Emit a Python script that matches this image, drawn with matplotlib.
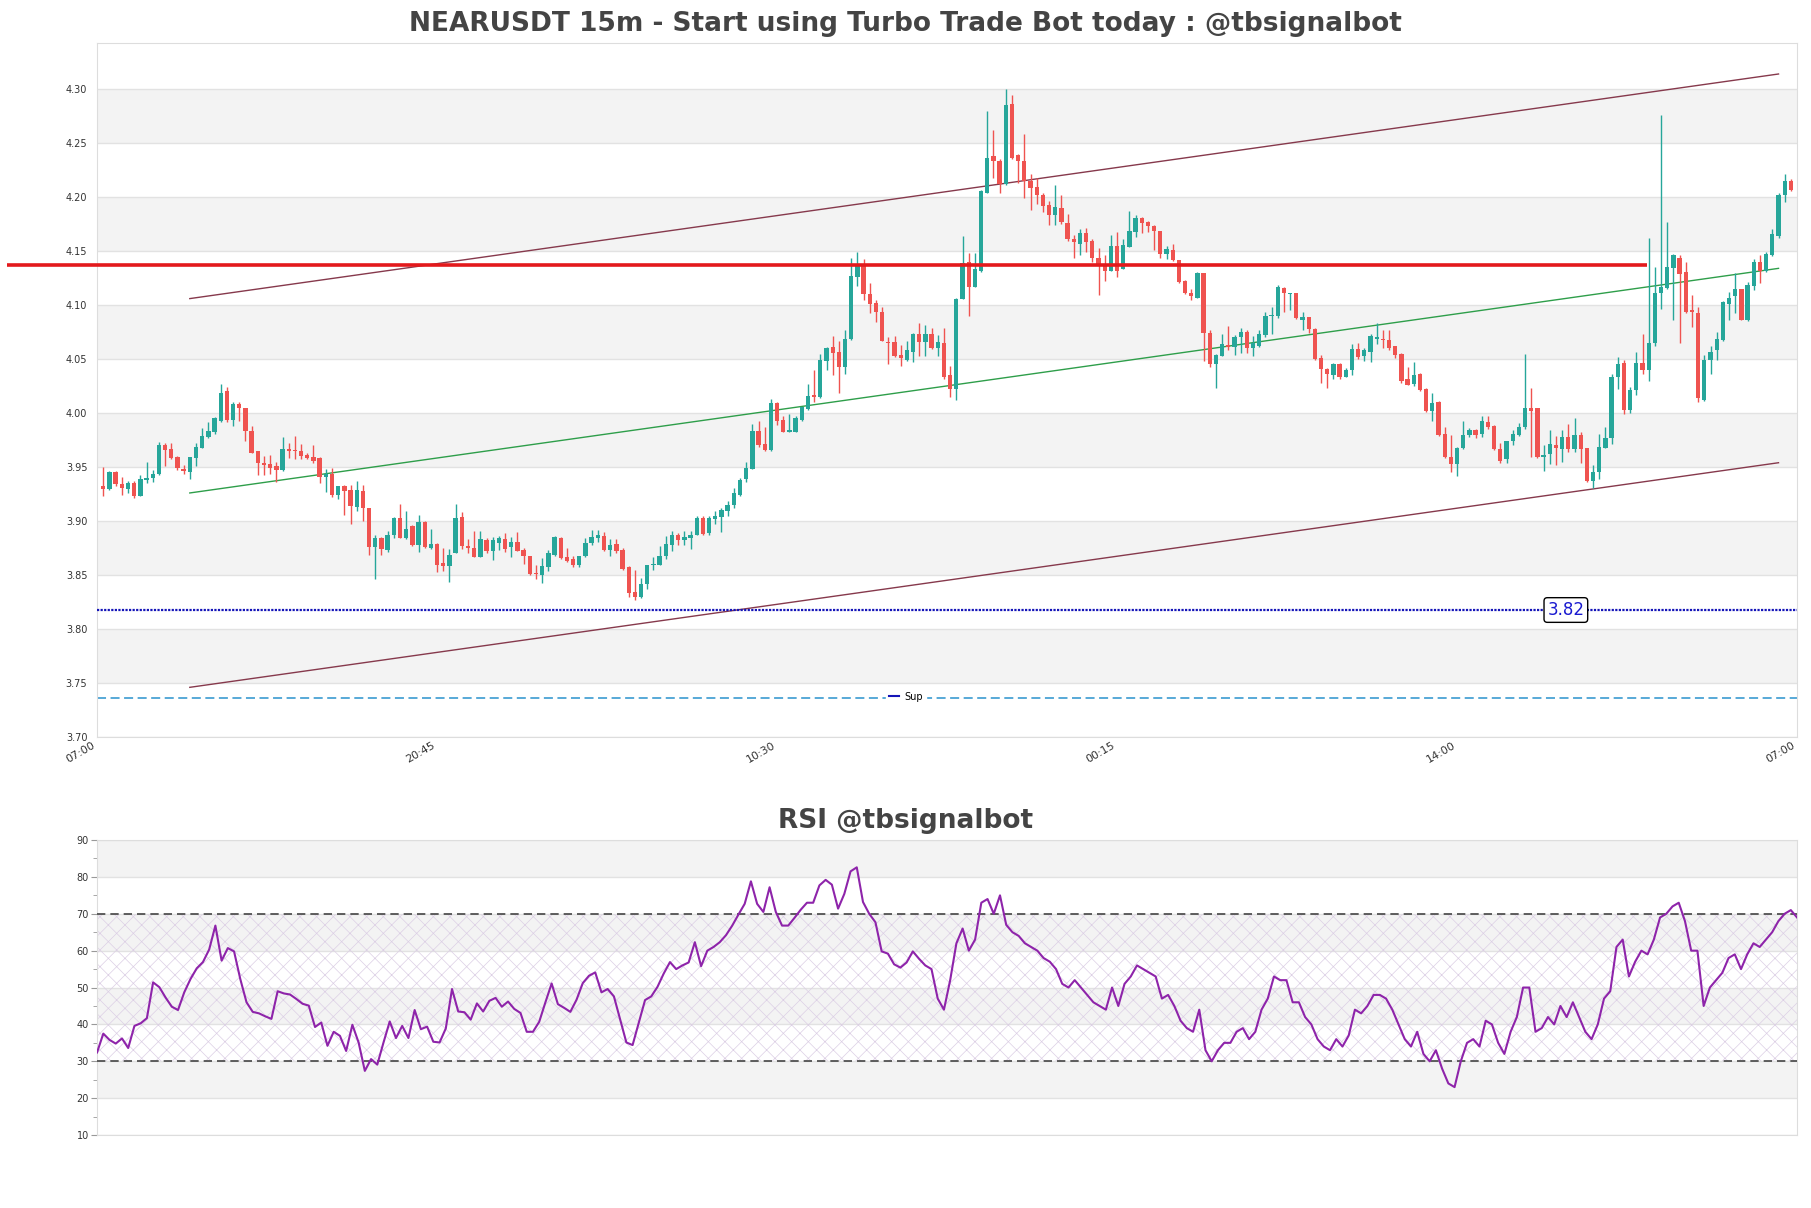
import numpy as np
import matplotlib
matplotlib.use('Agg')
import matplotlib.pyplot as plt
from matplotlib.lines import Line2D

# 15m candles, NEARUSDT
opens = [
    3.932, 3.930, 3.945, 3.934, 3.930, 3.935, 3.923, 3.938, 3.940, 3.944,
    3.970, 3.967, 3.959, 3.948, 3.945, 3.958, 3.968, 3.978, 3.982, 3.993,
    4.020, 3.994, 4.008, 4.005, 3.983, 3.965, 3.954, 3.953, 3.951, 3.947,
    3.967, 3.966, 3.965, 3.961, 3.959, 3.958, 3.941, 3.944, 3.924, 3.932,
    3.929, 3.913, 3.928, 3.912, 3.876, 3.884, 3.873, 3.887, 3.903, 3.884,
    3.895, 3.878, 3.899, 3.875, 3.879, 3.861, 3.858, 3.870, 3.904, 3.877,
    3.875, 3.867, 3.882, 3.872, 3.880, 3.883, 3.876, 3.881, 3.873, 3.868,
    3.852, 3.850, 3.857, 3.869, 3.884, 3.867, 3.865, 3.859, 3.868, 3.880,
    3.884, 3.886, 3.873, 3.879, 3.873, 3.857, 3.834, 3.830, 3.842, 3.859,
    3.859, 3.868, 3.878, 3.887, 3.882, 3.884, 3.887, 3.903, 3.889, 3.902,
    3.904, 3.909, 3.915, 3.924, 3.939, 3.948, 3.983, 3.971, 3.966, 4.009,
    3.994, 3.982, 3.982, 3.994, 4.004, 4.017, 4.015, 4.048, 4.061, 4.057,
    4.043, 4.069, 4.126, 4.137, 4.110, 4.102, 4.094, 4.066, 4.066, 4.054,
    4.049, 4.057, 4.073, 4.066, 4.073, 4.060, 4.065, 4.035, 4.022, 4.106,
    4.140, 4.117, 4.132, 4.204, 4.238, 4.233, 4.212, 4.286, 4.239, 4.233,
    4.215, 4.209, 4.202, 4.193, 4.183, 4.190, 4.176, 4.161, 4.157, 4.167,
    4.159, 4.144, 4.137, 4.132, 4.155, 4.133, 4.154, 4.168, 4.181, 4.177,
    4.173, 4.169, 4.147, 4.151, 4.142, 4.122, 4.111, 4.107, 4.130, 4.074,
    4.045, 4.053, 4.063, 4.061, 4.070, 4.075, 4.060, 4.062, 4.072, 4.090,
    4.090, 4.116, 4.110, 4.111, 4.086, 4.089, 4.078, 4.051, 4.041, 4.035,
    4.045, 4.033, 4.040, 4.059, 4.053, 4.057, 4.069, 4.069, 4.068, 4.062,
    4.055, 4.032, 4.027, 4.036, 4.022, 4.002, 4.010, 3.981, 3.959, 3.953,
    3.968, 3.980, 3.984, 3.981, 3.992, 3.988, 3.967, 3.957, 3.974, 3.980,
    3.987, 4.005, 4.005, 3.959, 3.962, 3.970, 3.967, 3.978, 3.967, 3.980,
    3.968, 3.937, 3.945, 3.968, 3.977, 4.033, 4.046, 4.003, 4.021, 4.046,
    4.040, 4.065, 4.111, 4.116, 4.134, 4.144, 4.131, 4.095, 4.093, 4.012,
    4.049, 4.058, 4.068, 4.101, 4.108, 4.115, 4.086, 4.118, 4.140, 4.132,
    4.146, 4.164, 4.202, 4.215,
]
highs = [
    3.950, 3.946, 3.946, 3.941, 3.937, 3.937, 3.943, 3.955, 3.947, 3.973,
    3.972, 3.972, 3.960, 3.952, 3.959, 3.972, 3.986, 3.992, 3.996, 4.027,
    4.024, 4.010, 4.010, 4.005, 3.988, 3.965, 3.960, 3.961, 3.955, 3.978,
    3.972, 3.979, 3.971, 3.963, 3.970, 3.959, 3.948, 3.949, 3.932, 3.933,
    3.933, 3.937, 3.933, 3.912, 3.887, 3.885, 3.891, 3.904, 3.916, 3.909,
    3.896, 3.906, 3.900, 3.893, 3.880, 3.875, 3.874, 3.916, 3.908, 3.883,
    3.891, 3.891, 3.884, 3.885, 3.886, 3.889, 3.885, 3.890, 3.875, 3.868,
    3.859, 3.866, 3.873, 3.886, 3.885, 3.875, 3.868, 3.868, 3.884, 3.892,
    3.892, 3.890, 3.883, 3.883, 3.875, 3.858, 3.855, 3.847, 3.859, 3.867,
    3.877, 3.886, 3.891, 3.889, 3.891, 3.891, 3.905, 3.905, 3.905, 3.909,
    3.912, 3.919, 3.931, 3.940, 3.955, 3.990, 3.993, 3.987, 4.013, 4.010,
    3.997, 3.999, 3.997, 4.006, 4.027, 4.040, 4.055, 4.061, 4.071, 4.067,
    4.077, 4.144, 4.149, 4.143, 4.120, 4.105, 4.098, 4.070, 4.071, 4.063,
    4.067, 4.074, 4.083, 4.082, 4.079, 4.072, 4.079, 4.044, 4.107, 4.164,
    4.148, 4.148, 4.207, 4.280, 4.262, 4.235, 4.300, 4.295, 4.240, 4.258,
    4.221, 4.218, 4.204, 4.196, 4.211, 4.202, 4.184, 4.165, 4.170, 4.171,
    4.161, 4.153, 4.146, 4.165, 4.168, 4.161, 4.187, 4.183, 4.182, 4.178,
    4.174, 4.169, 4.155, 4.157, 4.142, 4.123, 4.115, 4.131, 4.130, 4.077,
    4.055, 4.073, 4.081, 4.072, 4.079, 4.077, 4.071, 4.077, 4.094, 4.098,
    4.119, 4.117, 4.111, 4.111, 4.094, 4.089, 4.079, 4.054, 4.042, 4.046,
    4.046, 4.042, 4.064, 4.065, 4.060, 4.073, 4.083, 4.077, 4.077, 4.062,
    4.056, 4.043, 4.047, 4.037, 4.023, 4.019, 4.011, 3.987, 3.980, 3.969,
    3.993, 3.986, 3.985, 3.997, 3.997, 3.989, 3.972, 3.974, 3.984, 3.991,
    4.055, 4.023, 4.005, 3.970, 3.984, 3.979, 3.984, 3.990, 3.995, 3.982,
    3.968, 3.952, 3.981, 3.987, 4.036, 4.052, 4.049, 4.024, 4.057, 4.073,
    4.162, 4.135, 4.276, 4.177, 4.147, 4.146, 4.140, 4.109, 4.098, 4.054,
    4.062, 4.075, 4.104, 4.112, 4.130, 4.115, 4.121, 4.143, 4.146, 4.149,
    4.170, 4.204, 4.221, 4.217,
]
lows = [
    3.923, 3.929, 3.932, 3.924, 3.926, 3.921, 3.923, 3.935, 3.936, 3.943,
    3.951, 3.957, 3.947, 3.944, 3.939, 3.951, 3.968, 3.977, 3.981, 3.992,
    3.992, 3.988, 3.993, 3.974, 3.963, 3.943, 3.943, 3.944, 3.936, 3.946,
    3.958, 3.957, 3.957, 3.957, 3.954, 3.935, 3.927, 3.922, 3.920, 3.906,
    3.897, 3.909, 3.900, 3.869, 3.846, 3.869, 3.871, 3.884, 3.884, 3.883,
    3.877, 3.871, 3.875, 3.874, 3.853, 3.854, 3.844, 3.870, 3.874, 3.870,
    3.867, 3.867, 3.870, 3.864, 3.873, 3.871, 3.867, 3.872, 3.860, 3.850,
    3.846, 3.843, 3.854, 3.868, 3.865, 3.862, 3.857, 3.857, 3.867, 3.878,
    3.881, 3.872, 3.868, 3.870, 3.855, 3.830, 3.827, 3.829, 3.837, 3.855,
    3.859, 3.865, 3.872, 3.878, 3.878, 3.874, 3.887, 3.887, 3.887, 3.897,
    3.890, 3.905, 3.912, 3.923, 3.936, 3.948, 3.969, 3.965, 3.965, 3.989,
    3.982, 3.982, 3.982, 3.993, 4.003, 4.010, 4.014, 4.040, 4.035, 4.019,
    4.036, 4.068, 4.118, 4.105, 4.093, 4.084, 4.067, 4.045, 4.052, 4.044,
    4.048, 4.047, 4.053, 4.053, 4.059, 4.053, 4.032, 4.015, 4.012, 4.106,
    4.090, 4.117, 4.131, 4.204, 4.218, 4.204, 4.211, 4.235, 4.213, 4.199,
    4.188, 4.194, 4.186, 4.174, 4.174, 4.175, 4.159, 4.144, 4.146, 4.149,
    4.140, 4.109, 4.122, 4.132, 4.126, 4.133, 4.154, 4.163, 4.167, 4.168,
    4.151, 4.144, 4.143, 4.141, 4.120, 4.110, 4.105, 4.107, 4.048, 4.043,
    4.023, 4.053, 4.058, 4.054, 4.056, 4.056, 4.053, 4.061, 4.070, 4.073,
    4.088, 4.094, 4.095, 4.087, 4.077, 4.074, 4.049, 4.028, 4.023, 4.032,
    4.032, 4.033, 4.035, 4.050, 4.048, 4.047, 4.064, 4.060, 4.058, 4.051,
    4.028, 4.026, 4.025, 4.020, 4.001, 3.993, 3.979, 3.958, 3.945, 3.942,
    3.967, 3.978, 3.977, 3.978, 3.985, 3.966, 3.954, 3.954, 3.970, 3.979,
    3.985, 3.959, 3.958, 3.946, 3.953, 3.952, 3.955, 3.964, 3.964, 3.954,
    3.936, 3.931, 3.939, 3.968, 3.971, 4.022, 3.999, 4.000, 4.017, 4.036,
    4.030, 4.062, 4.096, 4.115, 4.086, 4.065, 4.093, 4.080, 4.010, 4.011,
    4.036, 4.049, 4.067, 4.086, 4.093, 4.086, 4.085, 4.114, 4.120, 4.131,
    4.145, 4.162, 4.195, 4.206,
]
closes = [
    3.930, 3.945, 3.934, 3.931, 3.935, 3.923, 3.939, 3.940, 3.944, 3.970,
    3.966, 3.958, 3.949, 3.946, 3.959, 3.969, 3.979, 3.983, 3.995, 4.019,
    3.994, 4.008, 4.005, 3.983, 3.963, 3.954, 3.952, 3.949, 3.947, 3.967,
    3.965, 3.965, 3.960, 3.958, 3.956, 3.941, 3.944, 3.924, 3.932, 3.928,
    3.914, 3.929, 3.912, 3.876, 3.884, 3.874, 3.887, 3.903, 3.884, 3.893,
    3.878, 3.899, 3.876, 3.879, 3.859, 3.858, 3.869, 3.903, 3.877, 3.875,
    3.867, 3.883, 3.872, 3.882, 3.884, 3.874, 3.881, 3.872, 3.868, 3.851,
    3.851, 3.858, 3.870, 3.885, 3.866, 3.863, 3.859, 3.868, 3.880, 3.885,
    3.887, 3.873, 3.878, 3.872, 3.856, 3.833, 3.830, 3.842, 3.859, 3.860,
    3.868, 3.879, 3.887, 3.882, 3.885, 3.887, 3.903, 3.888, 3.903, 3.905,
    3.910, 3.915, 3.926, 3.938, 3.949, 3.983, 3.970, 3.966, 4.009, 3.993,
    3.982, 3.984, 3.995, 4.006, 4.016, 4.015, 4.049, 4.060, 4.056, 4.043,
    4.069, 4.127, 4.137, 4.110, 4.101, 4.094, 4.067, 4.065, 4.053, 4.051,
    4.058, 4.073, 4.066, 4.073, 4.060, 4.066, 4.033, 4.022, 4.106, 4.139,
    4.117, 4.133, 4.206, 4.236, 4.233, 4.212, 4.285, 4.236, 4.233, 4.215,
    4.208, 4.202, 4.192, 4.183, 4.191, 4.177, 4.161, 4.158, 4.167, 4.158,
    4.144, 4.136, 4.132, 4.155, 4.132, 4.156, 4.169, 4.181, 4.176, 4.173,
    4.169, 4.147, 4.152, 4.142, 4.121, 4.111, 4.108, 4.130, 4.074, 4.045,
    4.054, 4.064, 4.061, 4.070, 4.075, 4.060, 4.065, 4.073, 4.090, 4.091,
    4.117, 4.111, 4.111, 4.088, 4.089, 4.078, 4.050, 4.041, 4.036, 4.045,
    4.033, 4.040, 4.059, 4.052, 4.058, 4.071, 4.070, 4.068, 4.060, 4.054,
    4.030, 4.026, 4.035, 4.021, 4.002, 4.009, 3.980, 3.959, 3.953, 3.968,
    3.980, 3.984, 3.980, 3.993, 3.987, 3.967, 3.956, 3.974, 3.981, 3.987,
    4.005, 4.002, 3.959, 3.961, 3.971, 3.968, 3.978, 3.967, 3.980, 3.967,
    3.937, 3.945, 3.969, 3.977, 4.033, 4.045, 4.003, 4.021, 4.046, 4.040,
    4.065, 4.111, 4.117, 4.135, 4.146, 4.129, 4.094, 4.094, 4.014, 4.049,
    4.057, 4.069, 4.103, 4.107, 4.115, 4.086, 4.119, 4.140, 4.132, 4.147,
    4.166, 4.202, 4.215, 4.207,
]
rsi = [
    32.4, 37.5, 35.8, 34.8, 36.2, 33.6, 39.6, 40.3, 41.7, 51.4,
    50.1, 47.3, 44.8, 43.9, 48.7, 52.3, 55.2, 56.9, 60.3, 66.8,
    57.3, 60.7, 59.8, 52.3, 46.0, 43.4, 43.0, 42.2, 41.5, 49.0,
    48.4, 48.1, 46.9, 45.6, 45.1, 39.3, 40.5, 34.2, 38.0, 36.9,
    32.8, 39.9, 35.1, 27.4, 30.6, 29.1, 35.1, 40.8, 36.3, 39.6,
    36.3, 43.9, 38.7, 39.4, 35.3, 35.1, 38.9, 49.6, 43.5, 43.3,
    41.3, 45.7, 43.5, 46.4, 47.2, 44.8, 46.2, 44.2, 43.1, 38.0,
    38.0, 40.7, 46.0, 51.1, 45.5, 44.5, 43.4, 46.7, 51.2, 53.2,
    54.1, 48.7, 49.6, 47.6, 41.4, 35.1, 34.4, 40.5, 46.6, 47.6,
    50.2, 53.8, 56.9, 55.0, 56.0, 56.8, 62.3, 55.8, 60.0, 61.0,
    62.3, 64.2, 66.8, 69.8, 72.7, 78.8, 72.7, 70.5, 77.2, 70.5,
    66.8, 66.8, 68.9, 71.1, 73.0, 73.0, 77.7, 79.2, 77.9, 71.4,
    75.4, 81.5, 82.6, 73.2, 70.0, 67.7, 59.8, 59.2, 56.3, 55.4,
    56.8, 59.8, 57.8, 56.0, 55.0, 47.0, 44.0, 52.0, 62.0, 66.0,
    60.0, 63.0, 73.0, 74.0, 70.0, 75.0, 67.0, 65.0, 64.0, 62.0,
    61.0, 60.0, 58.0, 57.0, 55.0, 51.0, 50.0, 52.0, 50.0, 48.0,
    46.0, 45.0, 44.0, 50.0, 45.0, 51.0, 53.0, 56.0, 55.0, 54.0,
    53.0, 47.0, 48.0, 45.0, 41.0, 39.0, 38.0, 44.0, 33.0, 30.0,
    33.0, 35.0, 35.0, 38.0, 39.0, 36.0, 38.0, 44.0, 47.0, 53.0,
    52.0, 52.0, 46.0, 46.0, 42.0, 40.0, 36.0, 34.0, 33.0, 36.0,
    34.0, 37.0, 44.0, 43.0, 45.0, 48.0, 48.0, 47.0, 44.0, 40.0,
    36.0, 34.0, 38.0, 32.0, 30.0, 33.0, 28.0, 24.0, 23.0, 30.0,
    35.0, 36.0, 34.0, 41.0, 40.0, 35.0, 32.0, 38.0, 42.0, 50.0,
    50.0, 38.0, 39.0, 42.0, 40.0, 45.0, 42.0, 46.0, 42.0, 38.0,
    36.0, 40.0, 47.0, 49.0, 61.0, 63.0, 53.0, 57.0, 60.0, 59.0,
    63.0, 69.0, 70.0, 72.0, 73.0, 68.0, 60.0, 60.0, 45.0, 50.0,
    52.0, 54.0, 58.0, 59.0, 55.0, 59.0, 62.0, 61.0, 63.0, 65.0,
    68.0, 70.0, 71.0, 69.0,
]

time_labels = ['07:00', '20:45', '10:30', '00:15', '14:00', '07:00']
price_ticks = [3.70, 3.75, 3.80, 3.85, 3.90, 3.95, 4.00, 4.05, 4.10, 4.15, 4.20, 4.25, 4.30]
rsi_ticks = [10, 20, 30, 40, 50, 60, 70, 80, 90]

# channel drawn from candle 14 to 271
channel_x = [14, 271]
channel_up = [4.106, 4.314]
channel_mid = [3.926, 4.134]
channel_low = [3.746, 3.954]
resistance = 4.137
resistance_x = [-15.6, 249.8]
support = 3.8176
support_tag_x = 236.6
sup_level = 3.736

GREEN = '#26a69a'
RED = '#ef5350'
BAND = '#f3f3f3'
GRID = '#e2e2e2'

plt.rcParams['hatch.linewidth'] = 0.5

n = len(closes)
x = np.arange(n)
o = np.array(opens)
h = np.array(highs)
l = np.array(lows)
c = np.array(closes)

fig = plt.figure(figsize=(18.11, 12.08), dpi=100)
ax = fig.add_axes([0.0536, 0.3899, 0.9387, 0.5745])
ax2 = fig.add_axes([0.0536, 0.0604, 0.9387, 0.2442])

# ---- price panel
for i in range(1, len(price_ticks) - 1, 2):
    ax.axhspan(price_ticks[i], price_ticks[i + 1], color=BAND, zorder=0, lw=0)
for t in price_ticks:
    ax.axhline(t, color=GRID, lw=1, zorder=0.5)

ax.plot(channel_x, channel_up, color='#86394c', lw=1, zorder=2)
ax.plot(channel_x, channel_low, color='#86394c', lw=1, zorder=2)
ax.plot(channel_x, channel_mid, color='#2e9e4a', lw=1, zorder=2)

cols = np.where(c >= o, GREEN, RED)
ax.vlines(x, l, h, colors=cols, lw=1, zorder=3)
body_lo = np.minimum(o, c)
body_h = np.maximum(np.abs(c - o), 0.0009)
ax.bar(x, body_h, 0.7, bottom=body_lo, color=cols, lw=0, zorder=4)

ax.plot(resistance_x, [resistance, resistance], color='#e3191c', lw=2.6,
        solid_capstyle='butt', clip_on=False, zorder=6)

sup_line, = ax.plot([-1, n], [support, support], color='#1515b8', lw=1.6,
                    ls=(0, (1, 0.6)), zorder=6)
ax.text(support_tag_x, support, '3.82', color='#1a1ad0', fontsize=12,
        ha='center', va='center', zorder=7,
        bbox=dict(boxstyle='round,pad=0.2', fc='white', ec='black', lw=1))
ax.axhline(sup_level, color='#4aa3d4', lw=1.3, ls=(0, (5, 2.5)), zorder=2)

ax.legend([Line2D([], [], color='#1515b8', lw=1.5)], ['Sup'], loc='center',
          bbox_to_anchor=(0.476, 0.058), fontsize=7, frameon=True, framealpha=1,
          facecolor='white', edgecolor='white', handlelength=1.0,
          borderpad=0.3, handletextpad=0.6)

ax.set_xlim(-1, n)
ax.set_ylim(3.70, 4.3427)
ax.set_yticks(price_ticks)
ax.set_yticklabels([f'{t:.2f}' for t in price_ticks])
ax.set_xticks(np.linspace(-1, n, len(time_labels)))
ax.set_xticklabels(time_labels, rotation=30, ha='right')
ax.tick_params(axis='y', length=0, labelsize=7, labelcolor='#333333', pad=7)
ax.tick_params(axis='x', length=0, labelsize=8, labelcolor='#333333', pad=2)
for s in ax.spines.values():
    s.set_color('#dddddd')

fig.text(0.5, 0.980, 'NEARUSDT 15m - Start using Turbo Trade Bot today : @tbsignalbot',
         ha='center', va='center', fontsize=19, fontweight='bold', color='#444444')

# ---- RSI panel
for lo in [20, 40, 60, 80]:
    ax2.axhspan(lo, lo + 10, color=BAND, zorder=0, lw=0)
for t in rsi_ticks:
    ax2.axhline(t, color=GRID, lw=1, zorder=0.5)
ax2.fill_between([0, n - 1], 30, 70, facecolor='none', hatch='xx',
                 edgecolor='#dccfe5', lw=0, zorder=1)
ax2.axhline(70, color='#444444', lw=1.2, ls=(0, (5, 3)), zorder=3)
ax2.axhline(30, color='#444444', lw=1.2, ls=(0, (5, 3)), zorder=3)
ax2.plot(x, rsi, color='#8e24aa', lw=1.5, zorder=4)

ax2.set_xlim(0, n - 1)
ax2.set_ylim(10, 90)
ax2.set_yticks(rsi_ticks)
ax2.set_yticks([15, 25, 35, 45, 55, 65, 75, 85], minor=True)
ax2.set_xticks([])
ax2.tick_params(axis='y', which='major', length=4, color='#999999',
                labelsize=7, labelcolor='#333333', pad=2)
ax2.tick_params(axis='y', which='minor', length=3, color='#999999')
for s in ax2.spines.values():
    s.set_color('#dddddd')

fig.text(0.5, 0.320, 'RSI @tbsignalbot', ha='center', va='center',
         fontsize=19, fontweight='bold', color='#444444')

fig.savefig('out.png', dpi=100)
